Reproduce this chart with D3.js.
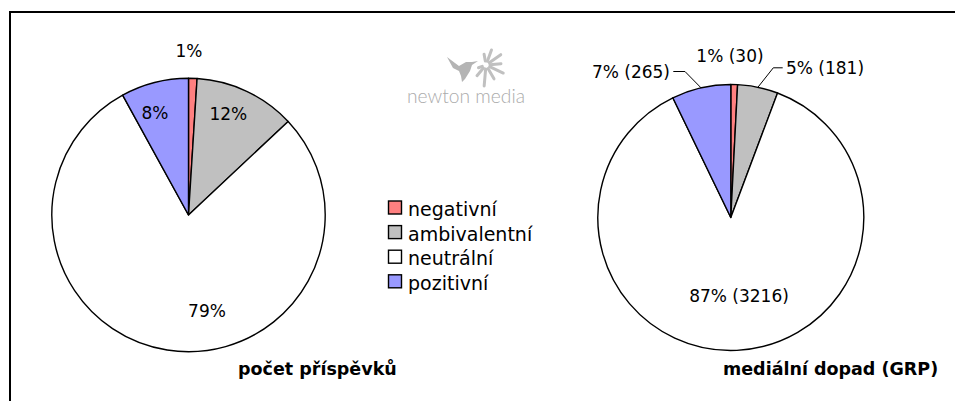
<!DOCTYPE html>
<html><head><meta charset="utf-8">
<script src="https://cdn.jsdelivr.net/npm/d3@7"></script>
<style>body{margin:0;background:#fff}svg{display:block}</style>
</head><body>
<svg id="c" width="955" height="401"></svg>
<script>
// ---- data ----
const categories = ["negativní", "ambivalentní", "neutrální", "pozitivní"];
const countShare = [1, 12, 79, 8];            // počet příspěvků (%)
const grpValues = [30, 181, 3216, 265];       // mediální dopad (GRP)
const countLabels = ["1%", "12%", "79%", "8%"];
const grpLabels = ["1% (30)", "5% (181)", "87% (3216)", "7% (265)"];
const titles = ["počet příspěvků", "mediální dopad (GRP)"];
const logoText = "newton media";

// ---- style / layout ----
const colors = ["#FF8080", "#C0C0C0", "#FFFFFF", "#9999FF"];
const FONT = "'DejaVu Sans', Verdana, sans-serif";
const svg = d3.select("#c");

// frame (cropped border)
svg.append("path").attr("d", "M10,401V12H955").attr("fill", "none")
  .attr("stroke", "#000").attr("stroke-width", 2);

const pies = [
  { values: countShare, labels: countLabels, cx: 188.5, cy: 215, r: 136.7,
    title: titles[0], titleX: 238, titleY: 375,
    lab: [[0.5, -158.5, "middle"], [39.8, -95, "middle"], [18.5, 102, "middle"], [-33.5, -96, "middle"]],
    leaders: [null, null, null, null] },
  { values: grpValues, labels: grpLabels, cx: 730.8, cy: 217.5, r: 133,
    title: titles[1], titleX: 723, titleY: 375,
    lab: [[-0.8, -156, "middle"], [55.2, -143.2, "start"], [8.2, 84.5, "middle"], [-60.8, -139.5, "end"]],
    leaders: [null, { side: 1, h: 9.4 }, null, { side: -1, h: 11.7 }] }
];

const pieGen = d3.pie().sort(null).value(d => d);

pies.forEach(p => {
  const g = svg.append("g").attr("transform", `translate(${p.cx},${p.cy})`);
  const arc = d3.arc().innerRadius(0).outerRadius(p.r);
  const arcs = pieGen(p.values);
  g.selectAll("path.slice").data(arcs).join("path")
    .attr("class", "slice")
    .attr("d", arc)
    .attr("fill", (d, i) => colors[i])
    .attr("stroke", "#000").attr("stroke-width", 1.4).attr("stroke-linejoin", "round");

  arcs.forEach((a, i) => {
    const [dx, dy, anchor] = p.lab[i];
    g.append("text").attr("x", dx).attr("y", dy)
      .attr("text-anchor", anchor)
      .attr("font-family", FONT).attr("font-size", 17).attr("fill", "#000")
      .text(p.labels[i]);
    const L = p.leaders[i];
    if (L) {
      const mid = (a.startAngle + a.endAngle) / 2;
      const sx = p.r * Math.sin(mid), sy = -p.r * Math.cos(mid);
      const ex = dx + (L.side > 0 ? -3.3 : 3.3);
      const ey = dy - 6.5;
      const bx = ex + (L.side > 0 ? -L.h : L.h);
      g.append("path")
        .attr("d", `M${sx},${sy}L${bx},${ey}L${ex},${ey}`)
        .attr("fill", "none").attr("stroke", "#000").attr("stroke-width", 1);
    }
  });

  svg.append("text").attr("x", p.titleX).attr("y", p.titleY)
    .attr("font-family", FONT).attr("font-size", 17.5).attr("font-weight", "bold")
    .attr("fill", "#000").text(p.title);
});

// legend
const lg = svg.append("g").attr("transform", "translate(388.5,201)");
categories.forEach((c, i) => {
  lg.append("rect").attr("x", 0).attr("y", i * 24.6).attr("width", 13).attr("height", 13)
    .attr("fill", colors[i]).attr("stroke", "#000").attr("stroke-width", 1.4);
  lg.append("text").attr("x", 19.5).attr("y", i * 24.6 + 15)
    .attr("font-family", FONT).attr("font-size", 19).attr("fill", "#000").text(c);
});

// logo (hummingbird + splash)
const logo = svg.append("g");
logo.append("path")
  .attr("d", "M447,57 L459,66 L466,62 L472,62 L478,61 L472,65 L470,71 L465,79 L462,82 L461,76 L459,71 L453,68 Z")
  .attr("fill", "#b4b4b4");
const rc = [486, 65];
[[-100, 11], [-70, 16], [-35, 18], [-5, 15], [25, 19], [60, 16], [95, 21], [130, 14], [160, 8]]
  .forEach(([ang, len]) => {
    const t = ang * Math.PI / 180;
    logo.append("line")
      .attr("x1", rc[0] + 4 * Math.cos(t)).attr("y1", rc[1] + 4 * Math.sin(t))
      .attr("x2", rc[0] + len * Math.cos(t)).attr("y2", rc[1] + len * Math.sin(t))
      .attr("stroke", "#c0c0c0").attr("stroke-width", 3).attr("stroke-linecap", "round");
  });
logo.append("text").attr("x", 407).attr("y", 103)
  .attr("font-family", "Lato, 'Open Sans', sans-serif").attr("font-weight", 300)
  .attr("font-size", 19).attr("fill", "#ababab")
  .attr("textLength", 118).attr("lengthAdjust", "spacingAndGlyphs")
  .text(logoText);
</script>
</body></html>
